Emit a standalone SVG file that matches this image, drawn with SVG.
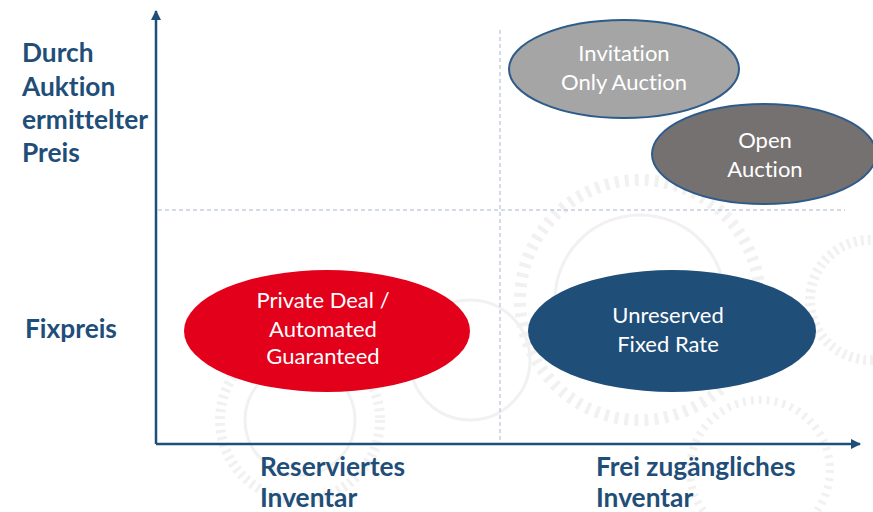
<svg xmlns="http://www.w3.org/2000/svg" width="873" height="512" viewBox="0 0 873 512">
  <defs>
    <marker id="arrow" viewBox="0 0 10 10" refX="9" refY="5" markerWidth="4.2" markerHeight="4.2" orient="auto">
      <path d="M0,0 L10,5 L0,10 z" fill="#1f4e79"/>
    </marker>
  </defs>
  <style>
    text { font-variant-ligatures: none; font-feature-settings: "liga" 0; }
    .axis { stroke: #1f4e79; stroke-width: 2.5; fill: none; }
    .grid { stroke: #a9b6c8; stroke-width: 1; stroke-dasharray: 4 3; fill: none; }
    .lbl { font-family: Lato, "Open Sans", "Liberation Sans", sans-serif; font-weight: bold; font-size: 26.3px; fill: #1f4e79; }
    .in { font-family: Lato, "Open Sans", "Liberation Sans", sans-serif; font-size: 22px; fill: #ffffff; text-anchor: middle; }
    .gear { fill: none; stroke: #f1f1f1; }
  </style>
  <rect width="873" height="512" fill="#ffffff"/>

  <!-- faint gear watermark -->
  <g id="watermark">
    <circle class="gear" cx="300" cy="420" r="80" stroke-width="10" stroke-dasharray="3 4"/>
    <circle class="gear" cx="300" cy="420" r="55" stroke-width="3"/>
    <circle class="gear" cx="640" cy="300" r="120" stroke-width="12" stroke-dasharray="4 6"/>
    <circle class="gear" cx="640" cy="300" r="85" stroke-width="3"/>
    <circle class="gear" cx="870" cy="300" r="60" stroke-width="10" stroke-dasharray="3 4"/>
    <circle class="gear" cx="470" cy="360" r="60" stroke-width="3"/>
    <circle class="gear" cx="760" cy="470" r="70" stroke-width="8" stroke-dasharray="3 5"/>
  </g>

  <!-- grid and axes -->
  <g id="connectors">
    <line class="grid" x1="500" y1="30" x2="500" y2="444"/>
    <line class="grid" x1="158" y1="210" x2="845" y2="210"/>
    <line class="axis" x1="156" y1="444" x2="156" y2="11" marker-end="url(#arrow)"/>
    <line class="axis" x1="156" y1="444" x2="860" y2="444" marker-end="url(#arrow)"/>
  </g>

  <!-- axis labels -->
  <g id="label-y-top">
    <text class="lbl" x="22" y="62">Durch</text>
    <text class="lbl" x="22" y="96">Auktion</text>
    <text class="lbl" x="22" y="129">ermittelter</text>
    <text class="lbl" x="22" y="162">Preis</text>
  </g>
  <g id="label-y-bottom">
    <text class="lbl" x="25" y="338">Fixpreis</text>
  </g>
  <g id="label-x-left">
    <text class="lbl" x="260" y="476">Reserviertes</text>
    <text class="lbl" x="260" y="507">Inventar</text>
  </g>
  <g id="label-x-right">
    <text class="lbl" x="596" y="476">Frei zugängliches</text>
    <text class="lbl" x="596" y="507">Inventar</text>
  </g>

  <!-- quadrant nodes -->
  <g id="invitation-only-auction">
    <ellipse cx="624" cy="69" rx="115" ry="49" fill="#a5a5a5" stroke="#2e5c8a" stroke-width="2"/>
    <text class="in" x="624" y="61">Invitation</text>
    <text class="in" x="624" y="90">Only Auction</text>
  </g>
  <g id="open-auction">
    <ellipse cx="764" cy="154" rx="112" ry="50" fill="#767171" stroke="#2e5c8a" stroke-width="2"/>
    <text class="in" x="765" y="148">Open</text>
    <text class="in" x="765" y="177">Auction</text>
  </g>
  <g id="private-deal">
    <ellipse cx="327" cy="331" rx="143" ry="61" fill="#e2001a"/>
    <text class="in" x="323" y="308">Private Deal /</text>
    <text class="in" x="323" y="337">Automated</text>
    <text class="in" x="323" y="364">Guaranteed</text>
  </g>
  <g id="unreserved-fixed-rate">
    <ellipse cx="672" cy="331" rx="144" ry="61" fill="#1f4e79"/>
    <text class="in" x="668" y="323">Unreserved</text>
    <text class="in" x="668" y="352">Fixed Rate</text>
  </g>
</svg>
